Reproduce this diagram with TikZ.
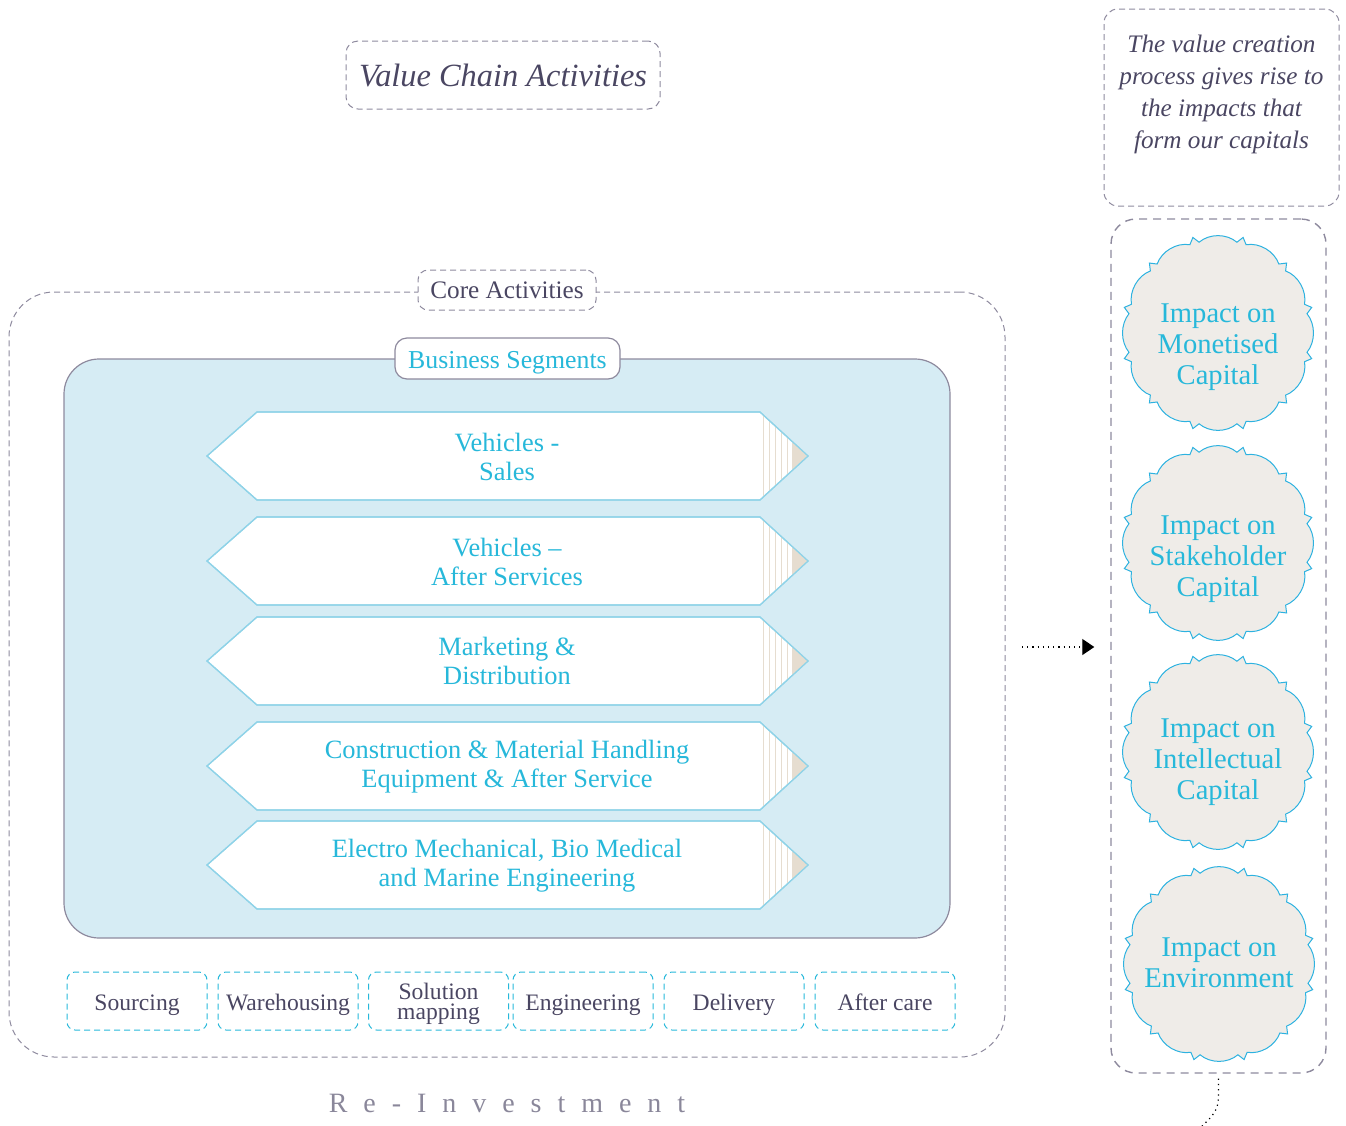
\documentclass[tikz,border=0pt]{standalone}
\usepackage{fontspec}
\setmainfont{Liberation Serif}
\newfontfamily\spacedfont[LetterSpace=57]{Liberation Serif}
\usetikzlibrary{arrows.meta,calc}
\definecolor{dashgray}{HTML}{8E8A9E}
\definecolor{darktext}{HTML}{4A4662}
\definecolor{cyantext}{HTML}{27B8DA}
\definecolor{lightblue}{HTML}{D6ECF4}
\definecolor{arrowline}{HTML}{8FD3E8}
\definecolor{beige}{HTML}{E6DDD0}
\definecolor{cloudfill}{HTML}{EFECE8}
\definecolor{cloudline}{HTML}{2DB2E0}
\definecolor{respaced}{HTML}{8A879A}
\tikzset{
  dashbox/.style={draw=dashgray, line width=0.5pt, dash pattern=on 3pt off 2pt, rounded corners=#1, inner sep=0pt},
  segshape/.style={fill=white, draw=arrowline, line width=0.6pt},
  segtext/.style={text=cyantext, align=center, font=\fontsize{13.2}{14.5}\selectfont},
  stepbox/.style={draw=cyantext, line width=0.5pt, dash pattern=on 3pt off 2pt, rounded corners=4pt,
     minimum width=70pt, minimum height=29pt, inner sep=0pt, align=center, text=darktext,
     font=\fontsize{11.8}{10.3}\selectfont},
  steptext/.style={text height=12pt, text depth=3pt},
  cloudtext/.style={text=cyantext, align=center, font=\fontsize{14.3}{15.5}\selectfont},
  cloudshape/.style={fill=cloudfill, draw=cloudline, line width=0.5pt},
}
\newcommand\segbody[1]{%
  \begin{scope}[shift={(0,#1)}]
    \path[segshape] (207,0) -- (257,-44) -- (760,-44) -- (808,0) -- (760,44) -- (257,44) -- cycle;
    \begin{scope}
      \clip (207,0) -- (257,-44) -- (760,-44) -- (808,0) -- (760,44) -- (257,44) -- cycle;
      \foreach \sx in {763,769,775,781,787}{\draw[beige, line width=0.5pt] (\sx,-40) -- (\sx,40);}
      \fill[beige] (792,-30) rectangle (812,30);
    \end{scope}
    \draw[arrowline, line width=0.6pt] (207,0) -- (257,-44) -- (760,-44) -- (808,0) -- (760,44) -- (257,44) -- cycle;
  \end{scope}}
\newcommand\cloudbody[1]{%
  \begin{scope}[shift={(#1.center)}, yscale=1.02]
    \path[cloudshape] (15:97) \foreach \k in {0,...,11}{ -- ({15+\k*30+3}:91) .. controls ({15+\k*30+10}:98) and ({15+\k*30+20}:98) .. ({15+\k*30+27}:91) -- ({15+(\k+1)*30}:97) } -- cycle;
  \end{scope}}
\begin{document}
\begin{tikzpicture}[x=0.5pt, y=-0.5pt]
\useasboundingbox (0,0) rectangle (1346,1126);

% title
\node[dashbox=6pt, minimum width=157pt, minimum height=34pt, text=darktext,
      font=\fontsize{16.2}{18}\selectfont\itshape] (title) at (503,75) {Value Chain Activities};
\node[dashbox=7pt, minimum width=117.5pt, minimum height=98.5pt, text=darktext, align=center,
      font=\fontsize{12.6}{16}\selectfont\itshape] (note) at (1221.5,107.5)
      {The value creation\\process gives rise to\\the impacts that\\form our capitals\rule[-16pt]{0pt}{0pt}};

% core activities frame
\node[dashbox=22.5pt, minimum width=498pt, minimum height=382.5pt] (core) at (507,674.5) {};
\node[dashbox=5pt, fill=white, minimum width=89pt, minimum height=20pt, text=darktext,
      font=\fontsize{12.6}{13}\selectfont] (corelabel) at (507,290) {Core Activities};

% business segments
\node[draw=dashgray, fill=lightblue, line width=0.6pt, rounded corners=17.5pt,
      minimum width=443pt, minimum height=289.5pt, inner sep=0pt] (bs) at (507,648.5) {};
\node[draw=dashgray, fill=white, line width=0.6pt, rounded corners=6pt, minimum width=112.5pt,
      minimum height=20.5pt, inner sep=0pt, text=cyantext, font=\fontsize{12.9}{13}\selectfont,
      text height=13pt, text depth=2.8pt]
      (bslabel) at (507.5,358.5) {Business Segments};

\segbody{456}
\segbody{561}
\segbody{661}
\segbody{766}
\segbody{865}
\node[segtext] (s1) at (507,457) {Vehicles -\\Sales};
\node[segtext] (s2) at (507,562) {Vehicles --\\After Services};
\node[segtext] (s3) at (507,661) {Marketing \&\\Distribution};
\node[segtext] (s4) at (507,767) {Construction \& Material Handling\\Equipment \& After Service};
\node[segtext] (s5) at (507,866) {Electro Mechanical, Bio Medical\\and Marine Engineering};

% steps
\node[stepbox, steptext] (b1) at (137,1001) {Sourcing};
\node[stepbox, steptext] (b2) at (288,1001) {Warehousing};
\node[stepbox] (b3) at (438.5,1001) {\rule{0pt}{11pt}Solution\\mapping};
\node[stepbox, steptext] (b4) at (583,1001) {Engineering};
\node[stepbox, steptext] (b5) at (734,1001) {Delivery};
\node[stepbox, steptext] (b6) at (885,1001) {After care};

\node[text=respaced, font=\fontsize{14}{15}\spacedfont] (reinv) at (507,1103) {Re-Investment};

% right column
\node[draw=dashgray, line width=0.7pt, dash pattern=on 4pt off 3pt, rounded corners=12.5pt,
      minimum width=107.5pt, minimum height=427pt, inner sep=0pt] (rbox) at (1218.5,646) {};
\coordinate (c1) at (1218,333);
\coordinate (c2) at (1218,543);
\coordinate (c3) at (1218,752);
\coordinate (c4) at (1219,964);
\cloudbody{c1}
\cloudbody{c2}
\cloudbody{c3}
\cloudbody{c4}
\node[cloudtext] (i1) at ([yshift=-7pt]c1) {Impact on\\Monetised\\Capital};
\node[cloudtext] (i2) at ([yshift=-8pt]c2) {Impact on\\Stakeholder\\Capital};
\node[cloudtext] (i3) at ([yshift=-5pt]c3) {Impact on\\Intellectual\\Capital};
\node[cloudtext] (i4) at ([yshift=0.5pt]c4) {Impact on\\Environment};

% connectors
\coordinate (arrstart) at (1022,647);
\draw[dotted, line width=0.6pt, -{Triangle[length=6pt,width=8pt]}, shorten >=8pt]
     (arrstart) -- (rbox.west |- arrstart);
\coordinate (tailend) at (1198,1130);
\draw[dotted, line width=0.6pt] ([yshift=-2.5pt]rbox.south) -- ([yshift=-12pt]rbox.south)
     to[out=-90, in=45] (tailend);
\end{tikzpicture}
\end{document}
